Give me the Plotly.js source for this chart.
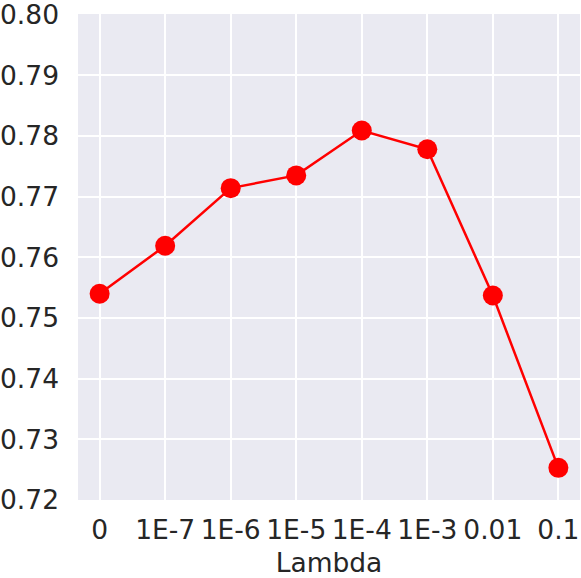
<!DOCTYPE html>
<html>
<head>
<meta charset="utf-8">
<script src="https://cdn.plot.ly/plotly-3.0.1.min.js"></script>
<style>html,body{margin:0;padding:0;background:#fff;}#chart{width:581px;height:578px;}</style>
</head>
<body>
<div id="chart"></div>
<script>
const categories = ["0", "1E-7", "1E-6", "1E-5", "1E-4", "1E-3", "0.01", "0.1"];
const values = [0.7540, 0.7619, 0.7714, 0.7735, 0.7809, 0.7778, 0.7537, 0.7253];
const yTicks = [0.72, 0.73, 0.74, 0.75, 0.76, 0.77, 0.78, 0.79, 0.80];
const xTitle = "Lambda";

const trace = {
  x: categories.map((c, i) => i),
  y: values,
  type: "scatter",
  mode: "lines+markers",
  line: {color: "#ff0000", width: 2.5},
  marker: {color: "#ff0000", size: 20},
  cliponaxis: false,
  hoverinfo: "skip"
};

const layout = {
  width: 581, height: 578,
  margin: {l: 78, r: 1, t: 14, b: 78, pad: 0},
  paper_bgcolor: "#ffffff",
  plot_bgcolor: "#EAEAF2",
  font: {family: "DejaVu Sans", size: 26.5, color: "#262626"},
  showlegend: false,
  xaxis: {
    range: [-0.33, 7.33],
    tickmode: "array",
    tickvals: categories.map((c, i) => i),
    ticktext: categories,
    showgrid: true, gridcolor: "#ffffff", gridwidth: 2,
    zeroline: false, showline: false, ticks: "",
    ticklabelstandoff: 11,
    ticklabeloverflow: "allow",
    tickfont: {size: 26.5, color: "#262626"},
    title: {text: xTitle, font: {size: 26.5, color: "#262626"}, standoff: 10}
  },
  yaxis: {
    range: [0.72, 0.8001],
    tickmode: "array",
    tickvals: yTicks,
    ticktext: yTicks.map(v => v.toFixed(2)),
    showgrid: true, gridcolor: "#ffffff", gridwidth: 2,
    zeroline: false, showline: false, ticks: "",
    ticklabelstandoff: 18,
    ticklabeloverflow: "allow",
    tickfont: {size: 26.5, color: "#262626"}
  }
};

Plotly.newPlot("chart", [trace], layout, {staticPlot: true, displayModeBar: false});
</script>
</body>
</html>
